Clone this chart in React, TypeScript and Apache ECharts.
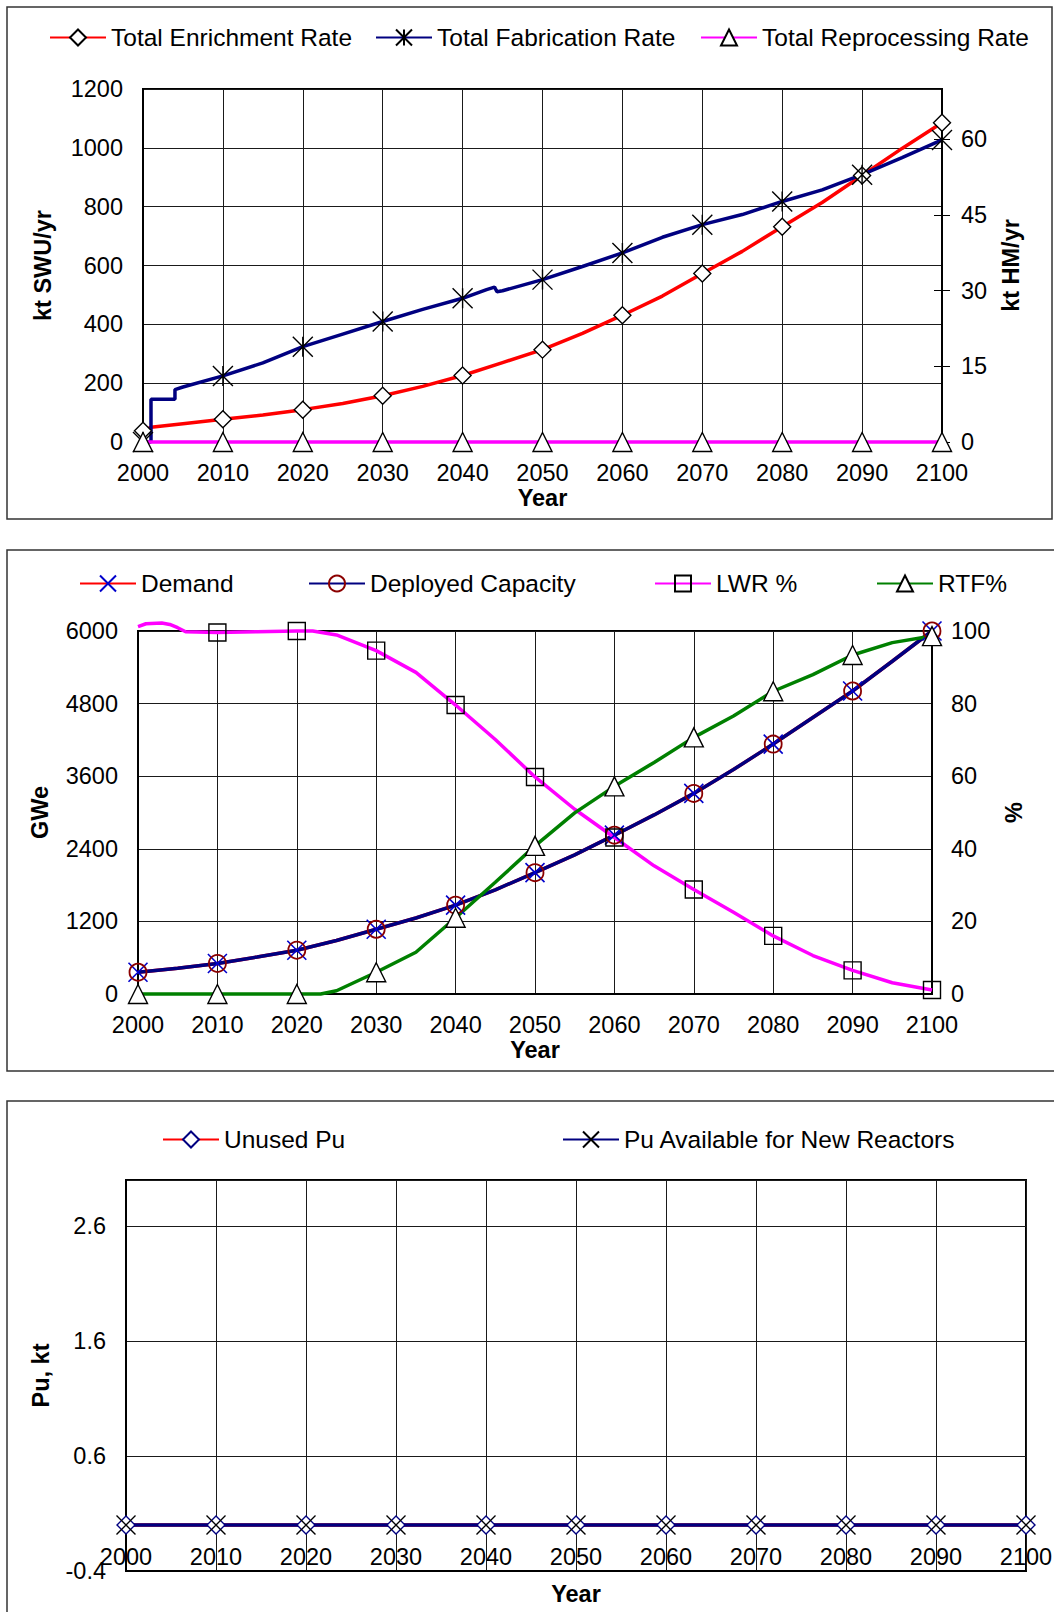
import React, { useEffect, useRef } from "react";
import * as echarts from "echarts";

const FONT = '"Liberation Sans", Arial, Helvetica, sans-serif';

// ---------- Panel 1: facility throughput ----------
// [year, kt SWU/yr]
const enrichmentRate: [number, number][] = [
  [2000, 38], [2001, 50], [2005, 62], [2010, 77], [2015, 92], [2020, 110],
  [2025, 131], [2030, 157], [2035, 189], [2040, 226], [2045, 270], [2050, 314],
  [2055, 369], [2060, 431], [2065, 496], [2070, 573], [2075, 648], [2080, 732],
  [2085, 814], [2090, 906], [2095, 998], [2100, 1085],
];
// [year, kt HM/yr]
const fabricationRate: [number, number][] = [
  [2000, 0], [2001, 0], [2001, 8.5], [2004, 8.5], [2004, 10.4], [2005, 10.9],
  [2010, 13.1], [2015, 15.7], [2020, 18.9], [2025, 21.4], [2030, 23.9],
  [2035, 26.3], [2040, 28.5], [2043, 30.2], [2044, 30.7], [2044.3, 29.8],
  [2045, 30.0], [2050, 32.2], [2055, 34.8], [2060, 37.5], [2065, 40.6],
  [2070, 43.1], [2075, 45.1], [2080, 47.7], [2085, 50.0], [2090, 53.0],
  [2095, 56.4], [2100, 59.9],
];
const reprocessingRate: [number, number][] = [
  [2000, 0], [2010, 0], [2020, 0], [2030, 0], [2040, 0], [2050, 0],
  [2060, 0], [2070, 0], [2080, 0], [2090, 0], [2100, 0],
];

// ---------- Panel 2: capacity (GWe) and reactor mix (%) ----------
const demand: [number, number][] = [
  [2000, 360], [2005, 425], [2010, 505], [2015, 612], [2020, 724], [2025, 884],
  [2030, 1070], [2035, 1256], [2040, 1468], [2045, 1722], [2050, 2006],
  [2055, 2300], [2060, 2625], [2065, 2960], [2070, 3316], [2075, 3710],
  [2080, 4131], [2085, 4570], [2090, 5008], [2095, 5500], [2100, 6000],
];
const deployedCapacity: [number, number][] = [
  [2000, 360], [2005, 425], [2010, 505], [2015, 612], [2020, 724], [2025, 884],
  [2030, 1070], [2035, 1256], [2040, 1468], [2045, 1722], [2050, 2006],
  [2055, 2300], [2060, 2625], [2065, 2960], [2070, 3316], [2075, 3710],
  [2080, 4131], [2085, 4570], [2090, 5008], [2095, 5500], [2100, 6000],
];
const lwrShare: [number, number][] = [
  [2000, 101.2], [2001, 102], [2003, 102.2], [2004, 101.8], [2005, 100.9],
  [2006, 99.8], [2010, 99.6], [2015, 99.8], [2020, 100], [2022, 100],
  [2025, 98.9], [2030, 94.6], [2035, 88.6], [2040, 79.6], [2045, 70.1],
  [2050, 59.8], [2055, 50.9], [2060, 43.1], [2065, 35.3], [2070, 28.8],
  [2075, 22.5], [2080, 16.0], [2085, 10.6], [2090, 6.5], [2095, 3.1],
  [2100, 1.1],
];
const rtfShare: [number, number][] = [
  [2000, 0], [2010, 0], [2020, 0], [2023, 0], [2025, 0.9], [2030, 6.0],
  [2035, 11.5], [2040, 21.0], [2045, 30.8], [2050, 40.8], [2055, 49.9],
  [2060, 57.2], [2065, 63.8], [2070, 70.7], [2075, 76.6], [2080, 83.4],
  [2085, 88.0], [2090, 93.4], [2095, 96.8], [2100, 98.6],
];

// ---------- Panel 3: plutonium inventory (kt) ----------
const unusedPu: [number, number][] = [
  [2000, 0], [2010, 0], [2020, 0], [2030, 0], [2040, 0], [2050, 0],
  [2060, 0], [2070, 0], [2080, 0], [2090, 0], [2100, 0],
];
const puAvailable: [number, number][] = [
  [2000, 0], [2010, 0], [2020, 0], [2030, 0], [2040, 0], [2050, 0],
  [2060, 0], [2070, 0], [2080, 0], [2090, 0], [2100, 0],
];

// Axis ranges and tick labels
const YEAR_MIN = 2000;
const YEAR_MAX = 2100;
const YEAR_STEP = 10;
const swuTicks = { min: 0, max: 1200, step: 200 };
const hmTickValues = [0, 15, 30, 45, 60];
const hmMax = 70;
const gweTicks = { min: 0, max: 6000, step: 1200 };
const pctTicks = { min: 0, max: 100, step: 20 };
const puTicks = { min: -0.4, max: 3.0, step: 1 };

// Marker glyphs
const ASTERISK = "path://M10,0L10,20M0,0L20,20M20,0L0,20";
const CROSS = "path://M0,0L20,20M20,0L0,20";

// Only the decade points (from firstMarked on) carry a marker
function withMarkers(points: [number, number][], firstMarked = YEAR_MIN) {
  return points.map(([x, y]) =>
    Number.isInteger(x) && x % YEAR_STEP === 0 && x >= firstMarked
      ? { value: [x, y] }
      : { value: [x, y], symbol: "none" }
  );
}

const plain = (v: number) => String(v);
const tickText = { fontSize: 23.5, color: "#000", fontFamily: FONT };
const nameText = { fontSize: 23.5, color: "#000", fontFamily: FONT, fontWeight: "bold" as const };
const gridLine = { show: true, lineStyle: { color: "#1a1a1a", width: 1 } };
const frame = { show: true, borderColor: "#000", borderWidth: 2, backgroundColor: "#fff", outerBoundsMode: "none" };

function yearAxis(gridIndex: number, labelMargin: number, nameGap: number) {
  return {
    type: "value",
    gridIndex,
    min: YEAR_MIN,
    max: YEAR_MAX,
    interval: YEAR_STEP,
    name: "Year",
    nameLocation: "middle",
    nameGap,
    nameTextStyle: nameText,
    axisLine: { show: true, onZero: false, lineStyle: { color: "#000", width: 2 } },
    axisTick: { show: false },
    axisLabel: { ...tickText, margin: labelMargin, formatter: plain },
    splitLine: gridLine,
  };
}

function legendItem(name: string, left: number, top: number) {
  return {
    data: [name],
    left,
    top,
    padding: 0,
    itemWidth: 56,
    itemHeight: 20,
    selectedMode: false,
    textStyle: { fontSize: 24.5, color: "#000", fontFamily: FONT },
  };
}

function lineSeries(
  name: string,
  xAxisIndex: number,
  yAxisIndex: number,
  points: [number, number][],
  lineColor: string,
  symbol: string,
  symbolSize: number,
  fill: string,
  stroke: string,
  strokeWidth = 1.4,
  firstMarked = YEAR_MIN
) {
  return {
    name,
    type: "line",
    xAxisIndex,
    yAxisIndex,
    data: withMarkers(points, firstMarked),
    symbol,
    symbolSize,
    symbolKeepAspect: true,
    showAllSymbol: true,
    clip: false,
    lineStyle: { color: lineColor, width: 3.5 },
    itemStyle: { color: fill, borderColor: stroke, borderWidth: strokeWidth },
    emphasis: { disabled: true },
  };
}

export default function App() {
  const ref = useRef<HTMLDivElement>(null);

  useEffect(() => {
    if (!ref.current) return;
    const chart = echarts.init(ref.current, undefined, { renderer: "svg" });

    const option = {
      animation: false,
      backgroundColor: "#fff",
      textStyle: { fontFamily: FONT },
      grid: [
        { ...frame, left: 143, top: 89, width: 799, height: 353 },
        { ...frame, left: 138, top: 631, width: 794, height: 363 },
        { ...frame, left: 126, top: 1180, width: 900, height: 391 },
      ],
      xAxis: [
        yearAxis(0, 19, 42),
        yearAxis(1, 19, 43),
        // the year labels of the Pu panel sit just under the zero line
        yearAxis(2, -26, 11),
      ],
      yAxis: [
        // 0: kt SWU/yr
        {
          type: "value", gridIndex: 0, position: "left",
          min: swuTicks.min, max: swuTicks.max, interval: swuTicks.step,
          name: "kt SWU/yr", nameLocation: "middle", nameRotate: 90, nameGap: 88, nameTextStyle: nameText,
          axisLine: { show: true, lineStyle: { color: "#000", width: 2 } },
          axisTick: { show: false },
          axisLabel: { ...tickText, margin: 20, formatter: plain },
          splitLine: gridLine,
        },
        // 1: kt HM/yr
        {
          type: "value", gridIndex: 0, position: "right",
          min: 0, max: hmMax, interval: 15,
          name: "kt HM/yr", nameLocation: "middle", nameRotate: 90, nameGap: 57, nameTextStyle: nameText,
          axisLine: { show: true, lineStyle: { color: "#000", width: 2 } },
          axisTick: { show: true, inside: false, length: 8, customValues: hmTickValues, lineStyle: { color: "#000", width: 1 } },
          axisLabel: { ...tickText, margin: 19, customValues: hmTickValues, formatter: plain },
          splitLine: { show: false },
        },
        // 2: inner half of the cross ticks on the kt HM/yr axis
        {
          type: "value", gridIndex: 0, position: "right",
          min: 0, max: hmMax, interval: 15,
          axisLine: { show: false },
          axisTick: { show: true, inside: true, length: 8, customValues: hmTickValues, lineStyle: { color: "#000", width: 1 } },
          axisLabel: { show: false },
          splitLine: { show: false },
        },
        // 3: GWe
        {
          type: "value", gridIndex: 1, position: "left",
          min: gweTicks.min, max: gweTicks.max, interval: gweTicks.step,
          name: "GWe", nameLocation: "middle", nameRotate: 90, nameGap: 86, nameTextStyle: nameText,
          axisLine: { show: true, lineStyle: { color: "#000", width: 2 } },
          axisTick: { show: false },
          axisLabel: { ...tickText, margin: 20, formatter: plain },
          splitLine: gridLine,
        },
        // 4: %
        {
          type: "value", gridIndex: 1, position: "right",
          min: pctTicks.min, max: pctTicks.max, interval: pctTicks.step,
          name: "%", nameLocation: "middle", nameRotate: 90, nameGap: 70, nameTextStyle: nameText,
          axisLine: { show: true, lineStyle: { color: "#000", width: 2 } },
          axisTick: { show: false },
          axisLabel: { ...tickText, margin: 19, formatter: plain },
          splitLine: { show: false },
        },
        // 5: Pu, kt
        {
          type: "value", gridIndex: 2, position: "left",
          min: puTicks.min, max: puTicks.max, interval: puTicks.step,
          name: "Pu, kt", nameLocation: "middle", nameRotate: 90, nameGap: 73, nameTextStyle: nameText,
          axisLine: { show: true, lineStyle: { color: "#000", width: 2 } },
          axisTick: { show: false },
          axisLabel: { ...tickText, margin: 20, showMaxLabel: false, formatter: (v: number) => v.toFixed(1) },
          splitLine: gridLine,
        },
      ],
      legend: [
        legendItem("Total Enrichment Rate", 49, 25),
        legendItem("Total Fabrication Rate", 375, 25),
        legendItem("Total Reprocessing Rate", 700, 25),
        legendItem("Demand", 79, 571),
        legendItem("Deployed Capacity", 308, 571),
        legendItem("LWR %", 654, 571),
        legendItem("RTF%", 876, 571),
        legendItem("Unused Pu", 162, 1127),
        legendItem("Pu Available for New Reactors", 562, 1127),
      ],
      series: [
        lineSeries("Total Enrichment Rate", 0, 0, enrichmentRate, "#FF0000", "diamond", 17, "#FFFFFF", "#000"),
        lineSeries("Total Fabrication Rate", 0, 1, fabricationRate, "#000080", ASTERISK, 20, "rgba(0,0,0,0)", "#000"),
        lineSeries("Total Reprocessing Rate", 0, 1, reprocessingRate, "#FF00FF", "triangle", 19, "#FFFFFF", "#000"),
        lineSeries("Demand", 1, 3, demand, "#FF0000", CROSS, 19, "rgba(0,0,0,0)", "#0000CC", 1.6),
        lineSeries("Deployed Capacity", 1, 3, deployedCapacity, "#000080", "circle", 17, "rgba(0,0,0,0)", "#8B0000", 1.8),
        lineSeries("LWR %", 1, 4, lwrShare, "#FF00FF", "rect", 17, "rgba(0,0,0,0)", "#000", 1.4, 2010),
        lineSeries("RTF%", 1, 4, rtfShare, "#008000", "triangle", 19, "#FFFFFF", "#000"),
        lineSeries("Unused Pu", 2, 5, unusedPu, "#FF0000", "diamond", 18, "#FFFFFF", "#000080"),
        lineSeries("Pu Available for New Reactors", 2, 5, puAvailable, "#000080", CROSS, 19, "rgba(0,0,0,0)", "#000"),
      ],
      graphic: [
        { type: "rect", silent: true, z: -10, shape: { x: 7, y: 7, width: 1045, height: 512 }, style: { fill: "none", stroke: "#333", lineWidth: 1.5 } },
        { type: "rect", silent: true, z: -10, shape: { x: 7, y: 550, width: 1070, height: 521 }, style: { fill: "none", stroke: "#333", lineWidth: 1.5 } },
        { type: "rect", silent: true, z: -10, shape: { x: 7, y: 1101, width: 1070, height: 540 }, style: { fill: "none", stroke: "#333", lineWidth: 1.5 } },
      ],
    };

    chart.setOption(option as any);
    return () => chart.dispose();
  }, []);

  return (
    <div
      ref={ref}
      style={{ position: "absolute", left: 0, top: 0, width: 1054, height: 1612, background: "#fff" }}
    />
  );
}
